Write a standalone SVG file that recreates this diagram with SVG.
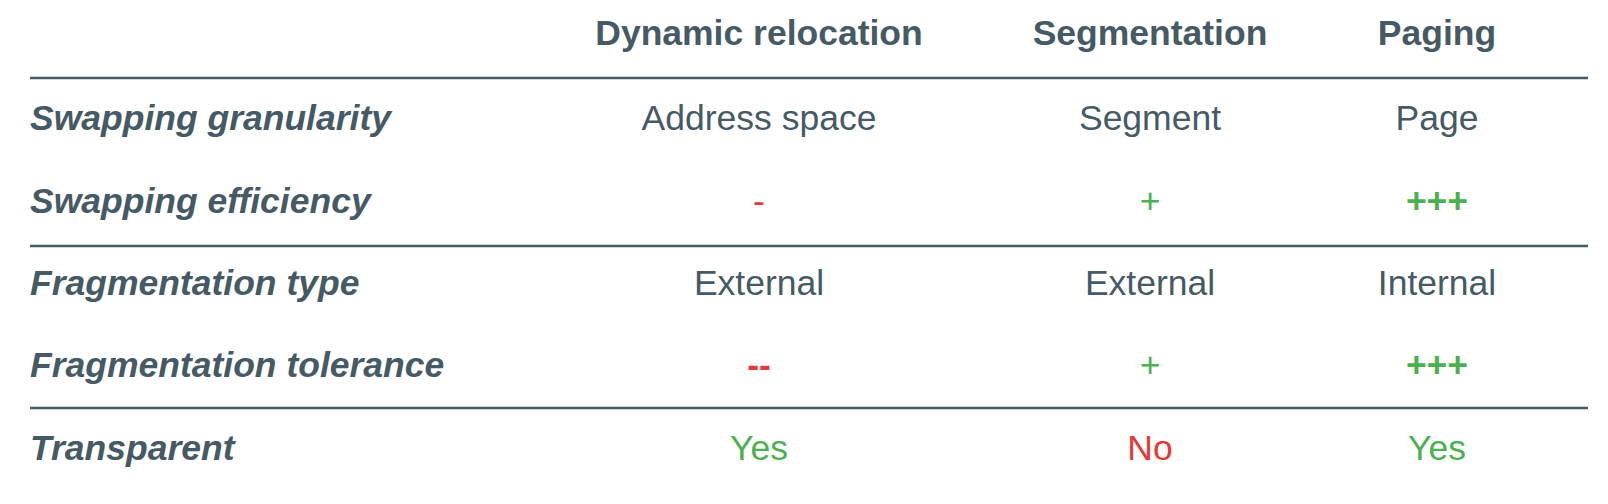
<svg xmlns="http://www.w3.org/2000/svg" width="1608" height="504" viewBox="0 0 1608 504">
<style>
text{font-family:"Liberation Sans",Arial,Helvetica,sans-serif;font-size:35.5px;fill:#455a64}
.h{font-weight:bold;text-anchor:middle}
.l{font-weight:bold;font-style:italic}
.v{text-anchor:middle}
.g{fill:#4caf50}
.r{fill:#e53935}
.b{font-weight:bold}
line{stroke:#455a64;stroke-width:2.5}
</style>
<rect width="1608" height="504" fill="#ffffff"/>
<g id="rules">
<line x1="30" y1="78" x2="1588" y2="78"/>
<line x1="30" y1="246" x2="1588" y2="246"/>
<line x1="30" y1="408" x2="1588" y2="408"/>
</g>
<g id="header">
<text class="h" x="759" y="45">Dynamic relocation</text>
<text class="h" x="1150" y="45">Segmentation</text>
<text class="h" x="1437" y="45">Paging</text>
</g>
<g id="row-granularity">
<text class="l" x="30" y="130">Swapping granularity</text>
<text class="v" x="759" y="130">Address space</text>
<text class="v" x="1150" y="130">Segment</text>
<text class="v" x="1437" y="130">Page</text>
</g>
<g id="row-efficiency">
<text class="l" x="30" y="213">Swapping efficiency</text>
<text class="v r" x="759" y="213">-</text>
<text class="v g" x="1150" y="213">+</text>
<text class="v g b" x="1437" y="213">+++</text>
</g>
<g id="row-fragtype">
<text class="l" x="30" y="295">Fragmentation type</text>
<text class="v" x="759" y="295">External</text>
<text class="v" x="1150" y="295">External</text>
<text class="v" x="1437" y="295">Internal</text>
</g>
<g id="row-fragtol">
<text class="l" x="30" y="377">Fragmentation tolerance</text>
<text class="v r b" x="759" y="377">--</text>
<text class="v g" x="1150" y="377">+</text>
<text class="v g b" x="1437" y="377">+++</text>
</g>
<g id="row-transparent">
<text class="l" x="30" y="460">Transparent</text>
<text class="v g" x="759" y="460">Yes</text>
<text class="v r" x="1150" y="460">No</text>
<text class="v g" x="1437" y="460">Yes</text>
</g>
</svg>
